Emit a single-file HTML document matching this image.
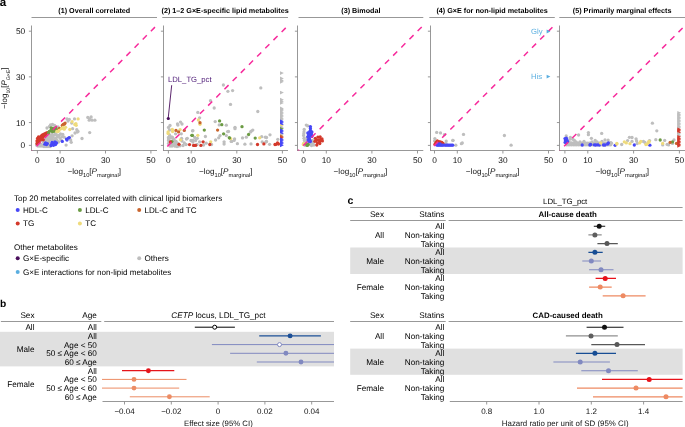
<!DOCTYPE html><html><head><meta charset="utf-8"><style>html,body{margin:0;padding:0;background:#fff;}svg{display:block;will-change:transform;}text{font-family:"Liberation Sans", sans-serif;text-rendering:geometricPrecision;}</style></head><body>
<svg width="685" height="427" viewBox="0 0 685 427">
<rect width="685" height="427" fill="#fff"/>
<text x="-0.20" y="5.90" font-size="11.6" text-anchor="start" fill="#000" font-weight="bold">a</text>
<line x1="31.50" y1="17.50" x2="157.00" y2="17.50" stroke="#8c8c8c" stroke-width="0.9"/>
<text x="94.25" y="13.40" font-size="7.2" text-anchor="middle" fill="#000" font-weight="bold">(1) Overall correlated</text>
<line x1="31.50" y1="25.50" x2="31.50" y2="151.00" stroke="#8c8c8c" stroke-width="0.9"/>
<line x1="31.05" y1="150.50" x2="157.00" y2="150.50" stroke="#8c8c8c" stroke-width="0.9"/>
<line x1="28.90" y1="145.40" x2="31.50" y2="145.40" stroke="#8c8c8c" stroke-width="0.9"/>
<line x1="37.40" y1="150.50" x2="37.40" y2="153.50" stroke="#8c8c8c" stroke-width="0.9"/>
<text x="37.40" y="162.80" font-size="8.3" text-anchor="middle" fill="#111">0</text>
<text x="25.20" y="148.40" font-size="8.3" text-anchor="end" fill="#111">0</text>
<line x1="28.90" y1="122.56" x2="31.50" y2="122.56" stroke="#8c8c8c" stroke-width="0.9"/>
<line x1="60.10" y1="150.50" x2="60.10" y2="153.50" stroke="#8c8c8c" stroke-width="0.9"/>
<text x="60.10" y="162.80" font-size="8.3" text-anchor="middle" fill="#111">10</text>
<text x="25.20" y="125.56" font-size="8.3" text-anchor="end" fill="#111">10</text>
<line x1="28.90" y1="76.88" x2="31.50" y2="76.88" stroke="#8c8c8c" stroke-width="0.9"/>
<line x1="105.50" y1="150.50" x2="105.50" y2="153.50" stroke="#8c8c8c" stroke-width="0.9"/>
<text x="105.50" y="162.80" font-size="8.3" text-anchor="middle" fill="#111">30</text>
<text x="25.20" y="79.88" font-size="8.3" text-anchor="end" fill="#111">30</text>
<line x1="28.90" y1="31.20" x2="31.50" y2="31.20" stroke="#8c8c8c" stroke-width="0.9"/>
<line x1="150.90" y1="150.50" x2="150.90" y2="153.50" stroke="#8c8c8c" stroke-width="0.9"/>
<text x="150.90" y="162.80" font-size="8.3" text-anchor="middle" fill="#111">50</text>
<text x="25.20" y="34.20" font-size="8.3" text-anchor="end" fill="#111">50</text>
<text x="94.25" y="174.0" font-size="8.1" text-anchor="middle" fill="#111">−log<tspan font-size="5.7" dy="2.5">10</tspan><tspan dy="-2.5">[</tspan><tspan font-style="italic">P</tspan><tspan font-size="5.7" dy="2.9">marginal</tspan><tspan dy="-2.9">]</tspan></text>
<clipPath id="cp0"><rect x="31.50" y="25.5" width="125.50" height="125.00"/></clipPath>
<g clip-path="url(#cp0)">
<circle cx="38.00" cy="146.00" r="1.65" fill="#bebebe"/>
<circle cx="40.00" cy="146.00" r="1.65" fill="#bebebe"/>
<circle cx="42.00" cy="146.00" r="1.65" fill="#bebebe"/>
<circle cx="44.00" cy="146.50" r="1.65" fill="#bebebe"/>
<circle cx="46.00" cy="146.50" r="1.65" fill="#bebebe"/>
<circle cx="48.00" cy="146.50" r="1.65" fill="#bebebe"/>
<circle cx="50.00" cy="146.50" r="1.65" fill="#bebebe"/>
<circle cx="39.00" cy="144.50" r="1.65" fill="#bebebe"/>
<circle cx="41.00" cy="144.50" r="1.65" fill="#bebebe"/>
<circle cx="43.00" cy="144.80" r="1.65" fill="#bebebe"/>
<circle cx="47.50" cy="143.00" r="1.65" fill="#bebebe"/>
<circle cx="49.00" cy="145.00" r="1.65" fill="#bebebe"/>
<circle cx="49.00" cy="142.00" r="1.65" fill="#bebebe"/>
<circle cx="47.00" cy="141.00" r="1.65" fill="#bebebe"/>
<circle cx="45.00" cy="141.00" r="1.65" fill="#bebebe"/>
<circle cx="43.00" cy="141.50" r="1.65" fill="#bebebe"/>
<circle cx="44.00" cy="139.50" r="1.65" fill="#bebebe"/>
<circle cx="46.00" cy="139.00" r="1.65" fill="#bebebe"/>
<circle cx="48.00" cy="139.50" r="1.65" fill="#bebebe"/>
<circle cx="50.00" cy="139.50" r="1.65" fill="#bebebe"/>
<circle cx="52.00" cy="139.50" r="1.65" fill="#bebebe"/>
<circle cx="47.00" cy="137.00" r="1.65" fill="#bebebe"/>
<circle cx="49.00" cy="137.00" r="1.65" fill="#bebebe"/>
<circle cx="51.00" cy="137.00" r="1.65" fill="#bebebe"/>
<circle cx="53.00" cy="137.20" r="1.65" fill="#bebebe"/>
<circle cx="53.40" cy="140.00" r="1.65" fill="#bebebe"/>
<circle cx="55.70" cy="133.40" r="1.65" fill="#bebebe"/>
<circle cx="56.50" cy="135.00" r="1.65" fill="#bebebe"/>
<circle cx="54.00" cy="135.00" r="1.65" fill="#bebebe"/>
<circle cx="52.00" cy="134.50" r="1.65" fill="#bebebe"/>
<circle cx="50.00" cy="135.00" r="1.65" fill="#bebebe"/>
<circle cx="48.00" cy="135.50" r="1.65" fill="#bebebe"/>
<circle cx="46.50" cy="136.00" r="1.65" fill="#bebebe"/>
<circle cx="55.50" cy="138.50" r="1.65" fill="#bebebe"/>
<circle cx="57.00" cy="140.50" r="1.65" fill="#bebebe"/>
<circle cx="57.50" cy="137.00" r="1.65" fill="#bebebe"/>
<circle cx="59.00" cy="135.50" r="1.65" fill="#bebebe"/>
<circle cx="60.50" cy="134.00" r="1.65" fill="#bebebe"/>
<circle cx="62.80" cy="134.40" r="1.65" fill="#bebebe"/>
<circle cx="62.30" cy="136.70" r="1.65" fill="#bebebe"/>
<circle cx="64.20" cy="137.20" r="1.65" fill="#bebebe"/>
<circle cx="60.00" cy="138.00" r="1.65" fill="#bebebe"/>
<circle cx="58.50" cy="142.00" r="1.65" fill="#bebebe"/>
<circle cx="61.00" cy="140.00" r="1.65" fill="#bebebe"/>
<circle cx="50.50" cy="125.00" r="1.65" fill="#bebebe"/>
<circle cx="52.50" cy="124.50" r="1.65" fill="#bebebe"/>
<circle cx="49.50" cy="126.50" r="1.65" fill="#bebebe"/>
<circle cx="47.00" cy="128.00" r="1.65" fill="#bebebe"/>
<circle cx="54.50" cy="125.50" r="1.65" fill="#bebebe"/>
<circle cx="58.00" cy="127.00" r="1.65" fill="#bebebe"/>
<circle cx="67.00" cy="118.90" r="1.65" fill="#bebebe"/>
<circle cx="69.30" cy="119.40" r="1.65" fill="#bebebe"/>
<circle cx="68.00" cy="121.00" r="1.65" fill="#bebebe"/>
<circle cx="74.50" cy="118.90" r="1.65" fill="#bebebe"/>
<circle cx="71.70" cy="123.10" r="1.65" fill="#bebebe"/>
<circle cx="72.60" cy="128.70" r="1.65" fill="#bebebe"/>
<circle cx="76.80" cy="129.70" r="1.65" fill="#bebebe"/>
<circle cx="77.30" cy="132.00" r="1.65" fill="#bebebe"/>
<circle cx="75.00" cy="133.00" r="1.65" fill="#bebebe"/>
<circle cx="72.10" cy="135.80" r="1.65" fill="#bebebe"/>
<circle cx="70.70" cy="140.00" r="1.65" fill="#bebebe"/>
<circle cx="71.20" cy="142.30" r="1.65" fill="#bebebe"/>
<circle cx="66.10" cy="145.10" r="1.65" fill="#bebebe"/>
<circle cx="82.00" cy="138.50" r="1.65" fill="#bebebe"/>
<circle cx="87.80" cy="117.40" r="1.65" fill="#bebebe"/>
<circle cx="91.10" cy="116.90" r="1.65" fill="#bebebe"/>
<circle cx="89.20" cy="120.20" r="1.65" fill="#bebebe"/>
<circle cx="92.10" cy="120.20" r="1.65" fill="#bebebe"/>
<circle cx="94.90" cy="120.20" r="1.65" fill="#bebebe"/>
<circle cx="89.70" cy="118.80" r="1.65" fill="#bebebe"/>
<circle cx="89.70" cy="132.60" r="1.65" fill="#bebebe"/>
<circle cx="78.00" cy="131.40" r="1.65" fill="#bebebe"/>
<circle cx="36.50" cy="145.00" r="1.65" fill="#bebebe"/>
<circle cx="37.00" cy="143.50" r="1.65" fill="#d4392b"/>
<circle cx="37.00" cy="141.00" r="1.65" fill="#d4392b"/>
<circle cx="37.50" cy="138.50" r="1.65" fill="#d4392b"/>
<circle cx="38.50" cy="137.00" r="1.65" fill="#d4392b"/>
<circle cx="39.00" cy="139.50" r="1.65" fill="#d4392b"/>
<circle cx="39.00" cy="142.00" r="1.65" fill="#d4392b"/>
<circle cx="40.00" cy="137.50" r="1.65" fill="#d4392b"/>
<circle cx="41.00" cy="136.30" r="1.65" fill="#d4392b"/>
<circle cx="40.50" cy="140.00" r="1.65" fill="#d4392b"/>
<circle cx="42.00" cy="135.20" r="1.65" fill="#d4392b"/>
<circle cx="43.50" cy="134.40" r="1.65" fill="#d4392b"/>
<circle cx="45.00" cy="133.60" r="1.65" fill="#d4392b"/>
<circle cx="46.50" cy="132.80" r="1.65" fill="#d4392b"/>
<circle cx="47.80" cy="132.60" r="1.65" fill="#d4392b"/>
<circle cx="42.50" cy="137.20" r="1.65" fill="#d4392b"/>
<circle cx="44.00" cy="136.00" r="1.65" fill="#d4392b"/>
<circle cx="45.50" cy="135.00" r="1.65" fill="#d4392b"/>
<circle cx="43.30" cy="139.80" r="1.65" fill="#d4392b"/>
<circle cx="41.80" cy="138.60" r="1.65" fill="#d4392b"/>
<circle cx="48.50" cy="133.00" r="1.65" fill="#6b9b43"/>
<circle cx="49.30" cy="131.50" r="1.65" fill="#6b9b43"/>
<circle cx="50.80" cy="130.50" r="1.65" fill="#6b9b43"/>
<circle cx="52.30" cy="131.50" r="1.65" fill="#6b9b43"/>
<circle cx="53.80" cy="131.30" r="1.65" fill="#6b9b43"/>
<circle cx="55.00" cy="129.80" r="1.65" fill="#6b9b43"/>
<circle cx="52.70" cy="128.50" r="1.65" fill="#6b9b43"/>
<circle cx="51.20" cy="127.80" r="1.65" fill="#6b9b43"/>
<circle cx="55.70" cy="127.80" r="1.65" fill="#6b9b43"/>
<circle cx="54.00" cy="130.50" r="1.65" fill="#6b9b43"/>
<circle cx="56.50" cy="130.00" r="1.65" fill="#6b9b43"/>
<circle cx="58.60" cy="129.70" r="1.65" fill="#c9652e"/>
<circle cx="59.50" cy="128.30" r="1.65" fill="#c9652e"/>
<circle cx="62.30" cy="125.50" r="1.65" fill="#c9652e"/>
<circle cx="63.20" cy="124.50" r="1.65" fill="#c9652e"/>
<circle cx="65.10" cy="123.10" r="1.65" fill="#c9652e"/>
<circle cx="64.50" cy="124.00" r="1.65" fill="#c9652e"/>
<circle cx="56.80" cy="131.50" r="1.65" fill="#efdb7c"/>
<circle cx="58.10" cy="131.60" r="1.65" fill="#efdb7c"/>
<circle cx="59.00" cy="130.50" r="1.65" fill="#efdb7c"/>
<circle cx="61.40" cy="128.70" r="1.65" fill="#efdb7c"/>
<circle cx="64.20" cy="129.20" r="1.65" fill="#efdb7c"/>
<circle cx="65.60" cy="127.30" r="1.65" fill="#efdb7c"/>
<circle cx="63.00" cy="127.50" r="1.65" fill="#efdb7c"/>
<circle cx="69.80" cy="129.50" r="1.65" fill="#efdb7c"/>
<circle cx="72.10" cy="121.70" r="1.65" fill="#efdb7c"/>
<circle cx="75.90" cy="123.60" r="1.65" fill="#efdb7c"/>
<circle cx="76.20" cy="125.30" r="1.65" fill="#efdb7c"/>
<circle cx="74.80" cy="124.50" r="1.65" fill="#efdb7c"/>
<circle cx="78.10" cy="118.90" r="1.65" fill="#efdb7c"/>
<circle cx="44.80" cy="144.20" r="1.65" fill="#4747f7"/>
<circle cx="46.50" cy="144.50" r="1.65" fill="#4747f7"/>
<circle cx="45.50" cy="143.00" r="1.65" fill="#4747f7"/>
<circle cx="47.30" cy="143.60" r="1.65" fill="#4747f7"/>
<circle cx="51.50" cy="144.50" r="1.65" fill="#4747f7"/>
<circle cx="53.00" cy="143.50" r="1.65" fill="#4747f7"/>
<circle cx="54.50" cy="142.80" r="1.65" fill="#4747f7"/>
<circle cx="55.50" cy="144.50" r="1.65" fill="#4747f7"/>
<circle cx="53.50" cy="145.30" r="1.65" fill="#4747f7"/>
<circle cx="51.00" cy="145.50" r="1.65" fill="#4747f7"/>
<circle cx="55.00" cy="141.80" r="1.65" fill="#4747f7"/>
<circle cx="52.00" cy="142.50" r="1.65" fill="#4747f7"/>
<circle cx="56.50" cy="143.00" r="1.65" fill="#4747f7"/>
<circle cx="62.30" cy="141.40" r="1.65" fill="#4747f7"/>
<circle cx="66.50" cy="139.10" r="1.65" fill="#4747f7"/>
<circle cx="68.40" cy="138.10" r="1.65" fill="#4747f7"/>
<circle cx="69.30" cy="137.60" r="1.65" fill="#4747f7"/>
<circle cx="67.00" cy="140.00" r="1.65" fill="#4747f7"/>
<line x1="11.99" y1="170.97" x2="173.60" y2="8.36" stroke="#f72b9c" stroke-width="1.5" stroke-dasharray="5.80 5.79"/>
</g>
<line x1="162.30" y1="17.50" x2="288.00" y2="17.50" stroke="#8c8c8c" stroke-width="0.9"/>
<text x="225.15" y="13.40" font-size="7.2" text-anchor="middle" fill="#000" font-weight="bold">(2) 1–2 G×E-specific lipid metabolites</text>
<line x1="163.50" y1="25.50" x2="163.50" y2="151.00" stroke="#8c8c8c" stroke-width="0.9"/>
<line x1="163.05" y1="150.50" x2="288.00" y2="150.50" stroke="#8c8c8c" stroke-width="0.9"/>
<line x1="160.90" y1="145.40" x2="163.50" y2="145.40" stroke="#8c8c8c" stroke-width="0.9"/>
<line x1="168.40" y1="150.50" x2="168.40" y2="153.50" stroke="#8c8c8c" stroke-width="0.9"/>
<text x="168.40" y="162.80" font-size="8.3" text-anchor="middle" fill="#111">0</text>
<line x1="160.90" y1="122.56" x2="163.50" y2="122.56" stroke="#8c8c8c" stroke-width="0.9"/>
<line x1="191.20" y1="150.50" x2="191.20" y2="153.50" stroke="#8c8c8c" stroke-width="0.9"/>
<text x="191.20" y="162.80" font-size="8.3" text-anchor="middle" fill="#111">10</text>
<line x1="160.90" y1="76.88" x2="163.50" y2="76.88" stroke="#8c8c8c" stroke-width="0.9"/>
<line x1="236.80" y1="150.50" x2="236.80" y2="153.50" stroke="#8c8c8c" stroke-width="0.9"/>
<text x="236.80" y="162.80" font-size="8.3" text-anchor="middle" fill="#111">30</text>
<line x1="160.90" y1="31.20" x2="163.50" y2="31.20" stroke="#8c8c8c" stroke-width="0.9"/>
<line x1="282.40" y1="150.50" x2="282.40" y2="153.50" stroke="#8c8c8c" stroke-width="0.9"/>
<text x="282.40" y="162.80" font-size="8.3" text-anchor="middle" fill="#111">50</text>
<text x="225.75" y="174.0" font-size="8.1" text-anchor="middle" fill="#111">−log<tspan font-size="5.7" dy="2.5">10</tspan><tspan dy="-2.5">[</tspan><tspan font-style="italic">P</tspan><tspan font-size="5.7" dy="2.9">marginal</tspan><tspan dy="-2.9">]</tspan></text>
<clipPath id="cp1"><rect x="163.50" y="25.5" width="124.50" height="125.00"/></clipPath>
<g clip-path="url(#cp1)">
<circle cx="168.50" cy="127.40" r="1.65" fill="#bebebe"/>
<circle cx="170.00" cy="125.50" r="1.65" fill="#bebebe"/>
<circle cx="177.50" cy="124.00" r="1.65" fill="#bebebe"/>
<circle cx="180.50" cy="122.10" r="1.65" fill="#bebebe"/>
<circle cx="182.00" cy="124.00" r="1.65" fill="#bebebe"/>
<circle cx="177.90" cy="125.10" r="1.65" fill="#bebebe"/>
<circle cx="168.50" cy="137.50" r="1.65" fill="#bebebe"/>
<circle cx="168.50" cy="140.50" r="1.65" fill="#bebebe"/>
<circle cx="168.50" cy="143.50" r="1.65" fill="#bebebe"/>
<circle cx="171.50" cy="136.80" r="1.65" fill="#bebebe"/>
<circle cx="173.00" cy="139.00" r="1.65" fill="#bebebe"/>
<circle cx="174.50" cy="141.30" r="1.65" fill="#bebebe"/>
<circle cx="171.50" cy="143.50" r="1.65" fill="#bebebe"/>
<circle cx="173.80" cy="145.00" r="1.65" fill="#bebebe"/>
<circle cx="176.00" cy="145.00" r="1.65" fill="#bebebe"/>
<circle cx="175.60" cy="133.80" r="1.65" fill="#bebebe"/>
<circle cx="181.30" cy="133.80" r="1.65" fill="#bebebe"/>
<circle cx="186.50" cy="139.00" r="1.65" fill="#bebebe"/>
<circle cx="184.30" cy="142.80" r="1.65" fill="#bebebe"/>
<circle cx="187.30" cy="138.30" r="1.65" fill="#bebebe"/>
<circle cx="192.50" cy="130.80" r="1.65" fill="#bebebe"/>
<circle cx="192.90" cy="142.00" r="1.65" fill="#bebebe"/>
<circle cx="191.00" cy="140.50" r="1.65" fill="#bebebe"/>
<circle cx="181.60" cy="138.30" r="1.65" fill="#bebebe"/>
<circle cx="174.90" cy="142.80" r="1.65" fill="#bebebe"/>
<circle cx="170.00" cy="146.00" r="1.65" fill="#bebebe"/>
<circle cx="172.00" cy="146.00" r="1.65" fill="#bebebe"/>
<circle cx="178.00" cy="146.00" r="1.65" fill="#bebebe"/>
<circle cx="168.50" cy="139.00" r="1.65" fill="#bebebe"/>
<circle cx="170.00" cy="138.00" r="1.65" fill="#bebebe"/>
<circle cx="172.50" cy="137.50" r="1.65" fill="#bebebe"/>
<circle cx="170.00" cy="144.50" r="1.65" fill="#bebebe"/>
<circle cx="172.50" cy="144.50" r="1.65" fill="#bebebe"/>
<circle cx="175.00" cy="146.20" r="1.65" fill="#bebebe"/>
<circle cx="177.00" cy="146.50" r="1.65" fill="#bebebe"/>
<circle cx="174.00" cy="139.50" r="1.65" fill="#bebebe"/>
<circle cx="176.00" cy="141.50" r="1.65" fill="#bebebe"/>
<circle cx="178.00" cy="143.50" r="1.65" fill="#bebebe"/>
<circle cx="180.00" cy="145.80" r="1.65" fill="#bebebe"/>
<circle cx="182.00" cy="141.00" r="1.65" fill="#bebebe"/>
<circle cx="169.50" cy="135.00" r="1.65" fill="#bebebe"/>
<circle cx="169.50" cy="130.00" r="1.65" fill="#bebebe"/>
<circle cx="170.50" cy="141.50" r="1.65" fill="#bebebe"/>
<circle cx="176.50" cy="143.00" r="1.65" fill="#bebebe"/>
<circle cx="183.00" cy="145.50" r="1.65" fill="#bebebe"/>
<circle cx="186.00" cy="144.50" r="1.65" fill="#bebebe"/>
<circle cx="197.80" cy="112.40" r="1.65" fill="#bebebe"/>
<circle cx="199.60" cy="117.80" r="1.65" fill="#bebebe"/>
<circle cx="215.20" cy="121.60" r="1.65" fill="#bebebe"/>
<circle cx="219.20" cy="124.90" r="1.65" fill="#bebebe"/>
<circle cx="226.30" cy="125.20" r="1.65" fill="#bebebe"/>
<circle cx="192.90" cy="130.70" r="1.65" fill="#bebebe"/>
<circle cx="205.40" cy="136.50" r="1.65" fill="#bebebe"/>
<circle cx="194.70" cy="137.40" r="1.65" fill="#bebebe"/>
<circle cx="197.30" cy="138.30" r="1.65" fill="#bebebe"/>
<circle cx="195.60" cy="140.50" r="1.65" fill="#bebebe"/>
<circle cx="199.60" cy="141.80" r="1.65" fill="#bebebe"/>
<circle cx="206.20" cy="143.20" r="1.65" fill="#bebebe"/>
<circle cx="203.60" cy="145.00" r="1.65" fill="#bebebe"/>
<circle cx="215.60" cy="140.00" r="1.65" fill="#bebebe"/>
<circle cx="218.70" cy="137.80" r="1.65" fill="#bebebe"/>
<circle cx="220.00" cy="135.60" r="1.65" fill="#bebebe"/>
<circle cx="227.60" cy="131.60" r="1.65" fill="#bebebe"/>
<circle cx="226.30" cy="135.60" r="1.65" fill="#bebebe"/>
<circle cx="224.10" cy="141.80" r="1.65" fill="#bebebe"/>
<circle cx="224.10" cy="144.00" r="1.65" fill="#bebebe"/>
<circle cx="231.20" cy="141.40" r="1.65" fill="#bebebe"/>
<circle cx="192.90" cy="140.50" r="1.65" fill="#bebebe"/>
<circle cx="197.00" cy="144.50" r="1.65" fill="#bebebe"/>
<circle cx="211.50" cy="144.50" r="1.65" fill="#bebebe"/>
<circle cx="235.00" cy="127.30" r="1.65" fill="#bebebe"/>
<circle cx="235.00" cy="128.70" r="1.65" fill="#bebebe"/>
<circle cx="228.50" cy="131.50" r="1.65" fill="#bebebe"/>
<circle cx="252.80" cy="130.10" r="1.65" fill="#bebebe"/>
<circle cx="251.40" cy="131.10" r="1.65" fill="#bebebe"/>
<circle cx="250.50" cy="132.00" r="1.65" fill="#bebebe"/>
<circle cx="246.30" cy="137.20" r="1.65" fill="#bebebe"/>
<circle cx="242.50" cy="137.90" r="1.65" fill="#bebebe"/>
<circle cx="234.60" cy="139.00" r="1.65" fill="#bebebe"/>
<circle cx="234.10" cy="140.40" r="1.65" fill="#bebebe"/>
<circle cx="231.70" cy="141.40" r="1.65" fill="#bebebe"/>
<circle cx="237.40" cy="143.70" r="1.65" fill="#bebebe"/>
<circle cx="244.90" cy="144.20" r="1.65" fill="#bebebe"/>
<circle cx="251.00" cy="143.90" r="1.65" fill="#bebebe"/>
<circle cx="261.70" cy="136.70" r="1.65" fill="#bebebe"/>
<circle cx="265.30" cy="137.20" r="1.65" fill="#bebebe"/>
<circle cx="262.20" cy="141.90" r="1.65" fill="#bebebe"/>
<circle cx="265.90" cy="141.90" r="1.65" fill="#bebebe"/>
<circle cx="223.40" cy="85.00" r="1.65" fill="#bebebe"/>
<circle cx="227.90" cy="91.30" r="1.65" fill="#bebebe"/>
<circle cx="232.60" cy="90.60" r="1.65" fill="#bebebe"/>
<circle cx="260.80" cy="87.90" r="1.65" fill="#bebebe"/>
<circle cx="210.50" cy="100.70" r="1.65" fill="#bebebe"/>
<circle cx="214.20" cy="108.00" r="1.65" fill="#bebebe"/>
<circle cx="230.50" cy="104.40" r="1.65" fill="#bebebe"/>
<circle cx="257.80" cy="111.50" r="1.65" fill="#bebebe"/>
<circle cx="270.00" cy="134.80" r="1.65" fill="#bebebe"/>
<circle cx="266.50" cy="137.50" r="1.65" fill="#bebebe"/>
<circle cx="266.50" cy="141.50" r="1.65" fill="#bebebe"/>
<circle cx="269.60" cy="144.30" r="1.65" fill="#bebebe"/>
<circle cx="277.80" cy="139.30" r="1.65" fill="#bebebe"/>
<circle cx="168.10" cy="131.90" r="1.65" fill="#efdb7c"/>
<circle cx="168.10" cy="133.60" r="1.65" fill="#efdb7c"/>
<circle cx="172.30" cy="129.30" r="1.65" fill="#efdb7c"/>
<circle cx="172.60" cy="131.50" r="1.65" fill="#efdb7c"/>
<circle cx="180.10" cy="129.60" r="1.65" fill="#efdb7c"/>
<circle cx="180.50" cy="139.80" r="1.65" fill="#efdb7c"/>
<circle cx="198.40" cy="120.00" r="1.65" fill="#efdb7c"/>
<circle cx="200.00" cy="124.30" r="1.65" fill="#efdb7c"/>
<circle cx="197.80" cy="135.30" r="1.65" fill="#efdb7c"/>
<circle cx="210.70" cy="141.80" r="1.65" fill="#efdb7c"/>
<circle cx="230.70" cy="138.70" r="1.65" fill="#efdb7c"/>
<circle cx="259.70" cy="137.80" r="1.65" fill="#efdb7c"/>
<circle cx="176.00" cy="130.40" r="1.65" fill="#c9652e"/>
<circle cx="178.60" cy="131.90" r="1.65" fill="#c9652e"/>
<circle cx="184.30" cy="130.40" r="1.65" fill="#c9652e"/>
<circle cx="200.00" cy="122.70" r="1.65" fill="#c9652e"/>
<circle cx="217.60" cy="130.10" r="1.65" fill="#c9652e"/>
<circle cx="171.90" cy="141.60" r="1.65" fill="#6b9b43"/>
<circle cx="191.80" cy="135.30" r="1.65" fill="#6b9b43"/>
<circle cx="219.60" cy="120.90" r="1.65" fill="#6b9b43"/>
<circle cx="221.80" cy="124.70" r="1.65" fill="#6b9b43"/>
<circle cx="204.30" cy="130.10" r="1.65" fill="#6b9b43"/>
<circle cx="192.40" cy="135.40" r="1.65" fill="#6b9b43"/>
<circle cx="223.60" cy="133.80" r="1.65" fill="#6b9b43"/>
<circle cx="229.40" cy="137.80" r="1.65" fill="#6b9b43"/>
<circle cx="242.00" cy="126.70" r="1.65" fill="#6b9b43"/>
<circle cx="248.60" cy="134.50" r="1.65" fill="#6b9b43"/>
<circle cx="255.20" cy="138.10" r="1.65" fill="#6b9b43"/>
<circle cx="229.40" cy="137.80" r="1.65" fill="#6b9b43"/>
<circle cx="170.40" cy="142.00" r="1.65" fill="#d4392b"/>
<circle cx="179.00" cy="144.30" r="1.65" fill="#d4392b"/>
<circle cx="189.50" cy="144.60" r="1.65" fill="#d4392b"/>
<circle cx="193.60" cy="145.40" r="1.65" fill="#d4392b"/>
<circle cx="194.20" cy="145.40" r="1.65" fill="#d4392b"/>
<circle cx="195.60" cy="145.40" r="1.65" fill="#d4392b"/>
<circle cx="200.90" cy="145.40" r="1.65" fill="#d4392b"/>
<circle cx="203.10" cy="141.80" r="1.65" fill="#d4392b"/>
<circle cx="209.80" cy="144.50" r="1.65" fill="#d4392b"/>
<circle cx="257.50" cy="144.50" r="1.65" fill="#d4392b"/>
<circle cx="263.90" cy="143.90" r="1.65" fill="#d4392b"/>
<circle cx="276.00" cy="144.30" r="1.65" fill="#d4392b"/>
<circle cx="277.50" cy="143.00" r="1.65" fill="#d4392b"/>
<circle cx="275.00" cy="144.50" r="1.65" fill="#d4392b"/>
<circle cx="278.50" cy="144.00" r="1.65" fill="#d4392b"/>
<path d="M280.00,71.20L283.90,73.10L280.00,75.00Z" fill="#bebebe"/>
<path d="M280.00,76.50L283.90,78.40L280.00,80.30Z" fill="#bebebe"/>
<path d="M280.00,78.50L283.90,80.40L280.00,82.30Z" fill="#bebebe"/>
<path d="M280.00,79.90L283.90,81.80L280.00,83.70Z" fill="#bebebe"/>
<path d="M280.00,90.70L283.90,92.60L280.00,94.50Z" fill="#bebebe"/>
<path d="M280.00,97.80L283.90,99.70L280.00,101.60Z" fill="#bebebe"/>
<path d="M280.00,99.40L283.90,101.30L280.00,103.20Z" fill="#bebebe"/>
<path d="M280.00,101.00L283.90,102.90L280.00,104.80Z" fill="#bebebe"/>
<path d="M280.00,106.50L283.90,108.40L280.00,110.30Z" fill="#bebebe"/>
<path d="M280.00,107.70L283.90,109.60L280.00,111.50Z" fill="#bebebe"/>
<path d="M280.00,108.90L283.90,110.80L280.00,112.70Z" fill="#bebebe"/>
<path d="M280.00,110.40L283.90,112.30L280.00,114.20Z" fill="#bebebe"/>
<path d="M280.00,111.90L283.90,113.80L280.00,115.70Z" fill="#bebebe"/>
<path d="M280.00,113.40L283.90,115.30L280.00,117.20Z" fill="#bebebe"/>
<path d="M280.00,114.90L283.90,116.80L280.00,118.70Z" fill="#bebebe"/>
<path d="M280.00,116.40L283.90,118.30L280.00,120.20Z" fill="#bebebe"/>
<path d="M280.00,117.90L283.90,119.80L280.00,121.70Z" fill="#bebebe"/>
<path d="M280.00,119.40L283.90,121.30L280.00,123.20Z" fill="#4747f7"/>
<path d="M280.00,120.90L283.90,122.80L280.00,124.70Z" fill="#4747f7"/>
<path d="M280.00,122.40L283.90,124.30L280.00,126.20Z" fill="#4747f7"/>
<path d="M280.00,123.90L283.90,125.80L280.00,127.70Z" fill="#efdb7c"/>
<path d="M280.00,125.40L283.90,127.30L280.00,129.20Z" fill="#bebebe"/>
<path d="M280.00,126.90L283.90,128.80L280.00,130.70Z" fill="#6b9b43"/>
<path d="M280.00,128.40L283.90,130.30L280.00,132.20Z" fill="#4747f7"/>
<path d="M280.00,129.90L283.90,131.80L280.00,133.70Z" fill="#4747f7"/>
<path d="M280.00,131.40L283.90,133.30L280.00,135.20Z" fill="#4747f7"/>
<path d="M280.00,132.90L283.90,134.80L280.00,136.70Z" fill="#bebebe"/>
<path d="M280.00,134.40L283.90,136.30L280.00,138.20Z" fill="#c9652e"/>
<path d="M280.00,135.90L283.90,137.80L280.00,139.70Z" fill="#d4392b"/>
<path d="M280.00,137.40L283.90,139.30L280.00,141.20Z" fill="#4747f7"/>
<path d="M280.00,138.90L283.90,140.80L280.00,142.70Z" fill="#4747f7"/>
<path d="M280.00,140.40L283.90,142.30L280.00,144.20Z" fill="#4747f7"/>
<path d="M280.00,141.90L283.90,143.80L280.00,145.70Z" fill="#4747f7"/>
<path d="M280.00,143.40L283.90,145.30L280.00,147.20Z" fill="#4747f7"/>
<line x1="142.79" y1="171.05" x2="305.20" y2="8.36" stroke="#f72b9c" stroke-width="1.5" stroke-dasharray="5.80 5.76"/>
</g>
<line x1="298.50" y1="17.50" x2="423.30" y2="17.50" stroke="#8c8c8c" stroke-width="0.9"/>
<text x="360.90" y="13.40" font-size="7.2" text-anchor="middle" fill="#000" font-weight="bold">(3) Bimodal</text>
<line x1="297.50" y1="25.50" x2="297.50" y2="151.00" stroke="#8c8c8c" stroke-width="0.9"/>
<line x1="297.05" y1="150.50" x2="423.30" y2="150.50" stroke="#8c8c8c" stroke-width="0.9"/>
<line x1="294.90" y1="145.40" x2="297.50" y2="145.40" stroke="#8c8c8c" stroke-width="0.9"/>
<line x1="303.50" y1="150.50" x2="303.50" y2="153.50" stroke="#8c8c8c" stroke-width="0.9"/>
<text x="303.50" y="162.80" font-size="8.3" text-anchor="middle" fill="#111">0</text>
<line x1="294.90" y1="122.56" x2="297.50" y2="122.56" stroke="#8c8c8c" stroke-width="0.9"/>
<line x1="326.30" y1="150.50" x2="326.30" y2="153.50" stroke="#8c8c8c" stroke-width="0.9"/>
<text x="326.30" y="162.80" font-size="8.3" text-anchor="middle" fill="#111">10</text>
<line x1="294.90" y1="76.88" x2="297.50" y2="76.88" stroke="#8c8c8c" stroke-width="0.9"/>
<line x1="371.90" y1="150.50" x2="371.90" y2="153.50" stroke="#8c8c8c" stroke-width="0.9"/>
<text x="371.90" y="162.80" font-size="8.3" text-anchor="middle" fill="#111">30</text>
<line x1="294.90" y1="31.20" x2="297.50" y2="31.20" stroke="#8c8c8c" stroke-width="0.9"/>
<line x1="417.50" y1="150.50" x2="417.50" y2="153.50" stroke="#8c8c8c" stroke-width="0.9"/>
<text x="417.50" y="162.80" font-size="8.3" text-anchor="middle" fill="#111">50</text>
<text x="360.40" y="174.0" font-size="8.1" text-anchor="middle" fill="#111">−log<tspan font-size="5.7" dy="2.5">10</tspan><tspan dy="-2.5">[</tspan><tspan font-style="italic">P</tspan><tspan font-size="5.7" dy="2.9">marginal</tspan><tspan dy="-2.9">]</tspan></text>
<clipPath id="cp2"><rect x="297.50" y="25.5" width="125.80" height="125.00"/></clipPath>
<g clip-path="url(#cp2)">
<circle cx="306.30" cy="125.10" r="1.65" fill="#bebebe"/>
<circle cx="307.80" cy="125.90" r="1.65" fill="#bebebe"/>
<circle cx="304.00" cy="131.90" r="1.65" fill="#bebebe"/>
<circle cx="303.60" cy="135.60" r="1.65" fill="#bebebe"/>
<circle cx="304.00" cy="138.30" r="1.65" fill="#bebebe"/>
<circle cx="304.40" cy="140.50" r="1.65" fill="#bebebe"/>
<circle cx="304.80" cy="142.80" r="1.65" fill="#bebebe"/>
<circle cx="311.10" cy="143.90" r="1.65" fill="#bebebe"/>
<circle cx="313.00" cy="142.00" r="1.65" fill="#bebebe"/>
<circle cx="313.00" cy="144.30" r="1.65" fill="#bebebe"/>
<circle cx="313.80" cy="145.00" r="1.65" fill="#bebebe"/>
<circle cx="305.50" cy="145.40" r="1.65" fill="#bebebe"/>
<circle cx="307.00" cy="137.50" r="1.65" fill="#bebebe"/>
<circle cx="304.20" cy="129.50" r="1.65" fill="#bebebe"/>
<circle cx="303.80" cy="133.80" r="1.65" fill="#bebebe"/>
<circle cx="306.00" cy="141.00" r="1.65" fill="#bebebe"/>
<circle cx="307.50" cy="143.00" r="1.65" fill="#bebebe"/>
<circle cx="309.50" cy="144.50" r="1.65" fill="#bebebe"/>
<circle cx="311.50" cy="145.50" r="1.65" fill="#bebebe"/>
<circle cx="312.50" cy="140.50" r="1.65" fill="#bebebe"/>
<circle cx="310.40" cy="126.60" r="1.65" fill="#4747f7"/>
<circle cx="310.40" cy="128.50" r="1.65" fill="#4747f7"/>
<circle cx="310.40" cy="130.40" r="1.65" fill="#4747f7"/>
<circle cx="309.60" cy="131.90" r="1.65" fill="#4747f7"/>
<circle cx="307.80" cy="133.00" r="1.65" fill="#4747f7"/>
<circle cx="308.50" cy="134.90" r="1.65" fill="#4747f7"/>
<circle cx="307.80" cy="136.80" r="1.65" fill="#4747f7"/>
<circle cx="309.30" cy="138.30" r="1.65" fill="#4747f7"/>
<circle cx="308.10" cy="139.80" r="1.65" fill="#4747f7"/>
<circle cx="310.00" cy="140.50" r="1.65" fill="#4747f7"/>
<circle cx="311.90" cy="131.90" r="1.65" fill="#4747f7"/>
<circle cx="311.50" cy="134.10" r="1.65" fill="#4747f7"/>
<circle cx="311.90" cy="136.40" r="1.65" fill="#4747f7"/>
<circle cx="310.40" cy="141.60" r="1.65" fill="#4747f7"/>
<circle cx="309.50" cy="133.50" r="1.65" fill="#4747f7"/>
<circle cx="310.00" cy="136.00" r="1.65" fill="#4747f7"/>
<circle cx="309.00" cy="141.30" r="1.65" fill="#4747f7"/>
<circle cx="315.30" cy="138.30" r="1.65" fill="#d4392b"/>
<circle cx="316.00" cy="140.50" r="1.65" fill="#d4392b"/>
<circle cx="314.90" cy="141.30" r="1.65" fill="#d4392b"/>
<circle cx="317.90" cy="137.10" r="1.65" fill="#d4392b"/>
<circle cx="320.10" cy="136.80" r="1.65" fill="#d4392b"/>
<circle cx="322.00" cy="139.00" r="1.65" fill="#d4392b"/>
<circle cx="322.40" cy="140.90" r="1.65" fill="#d4392b"/>
<circle cx="319.80" cy="141.30" r="1.65" fill="#d4392b"/>
<circle cx="317.50" cy="142.80" r="1.65" fill="#d4392b"/>
<circle cx="319.80" cy="143.50" r="1.65" fill="#d4392b"/>
<circle cx="316.80" cy="145.00" r="1.65" fill="#d4392b"/>
<circle cx="318.30" cy="139.80" r="1.65" fill="#d4392b"/>
<circle cx="320.50" cy="139.40" r="1.65" fill="#d4392b"/>
<circle cx="306.60" cy="144.60" r="1.65" fill="#6b9b43"/>
<circle cx="308.10" cy="144.30" r="1.65" fill="#6b9b43"/>
<circle cx="307.40" cy="145.40" r="1.65" fill="#6b9b43"/>
<circle cx="303.60" cy="143.50" r="1.65" fill="#efdb7c"/>
<circle cx="303.30" cy="144.60" r="1.65" fill="#efdb7c"/>
<line x1="278.79" y1="170.15" x2="440.30" y2="8.36" stroke="#f72b9c" stroke-width="1.5" stroke-dasharray="5.80 5.76"/>
</g>
<line x1="429.30" y1="17.50" x2="554.80" y2="17.50" stroke="#8c8c8c" stroke-width="0.9"/>
<text x="492.05" y="13.40" font-size="7.2" text-anchor="middle" fill="#000" font-weight="bold">(4) G×E for non-lipid metabolites</text>
<line x1="430.50" y1="25.50" x2="430.50" y2="151.00" stroke="#8c8c8c" stroke-width="0.9"/>
<line x1="430.05" y1="150.50" x2="554.80" y2="150.50" stroke="#8c8c8c" stroke-width="0.9"/>
<line x1="427.90" y1="145.40" x2="430.50" y2="145.40" stroke="#8c8c8c" stroke-width="0.9"/>
<line x1="434.50" y1="150.50" x2="434.50" y2="153.50" stroke="#8c8c8c" stroke-width="0.9"/>
<text x="434.50" y="162.80" font-size="8.3" text-anchor="middle" fill="#111">0</text>
<line x1="427.90" y1="122.56" x2="430.50" y2="122.56" stroke="#8c8c8c" stroke-width="0.9"/>
<line x1="457.30" y1="150.50" x2="457.30" y2="153.50" stroke="#8c8c8c" stroke-width="0.9"/>
<text x="457.30" y="162.80" font-size="8.3" text-anchor="middle" fill="#111">10</text>
<line x1="427.90" y1="76.88" x2="430.50" y2="76.88" stroke="#8c8c8c" stroke-width="0.9"/>
<line x1="502.90" y1="150.50" x2="502.90" y2="153.50" stroke="#8c8c8c" stroke-width="0.9"/>
<text x="502.90" y="162.80" font-size="8.3" text-anchor="middle" fill="#111">30</text>
<line x1="427.90" y1="31.20" x2="430.50" y2="31.20" stroke="#8c8c8c" stroke-width="0.9"/>
<line x1="548.50" y1="150.50" x2="548.50" y2="153.50" stroke="#8c8c8c" stroke-width="0.9"/>
<text x="548.50" y="162.80" font-size="8.3" text-anchor="middle" fill="#111">50</text>
<text x="492.65" y="174.0" font-size="8.1" text-anchor="middle" fill="#111">−log<tspan font-size="5.7" dy="2.5">10</tspan><tspan dy="-2.5">[</tspan><tspan font-style="italic">P</tspan><tspan font-size="5.7" dy="2.9">marginal</tspan><tspan dy="-2.9">]</tspan></text>
<clipPath id="cp3"><rect x="430.50" y="25.5" width="124.30" height="125.00"/></clipPath>
<g clip-path="url(#cp3)">
<circle cx="436.70" cy="132.40" r="1.65" fill="#bebebe"/>
<circle cx="440.50" cy="132.90" r="1.65" fill="#bebebe"/>
<circle cx="434.90" cy="138.60" r="1.65" fill="#bebebe"/>
<circle cx="434.60" cy="140.90" r="1.65" fill="#bebebe"/>
<circle cx="444.40" cy="134.70" r="1.65" fill="#bebebe"/>
<circle cx="446.20" cy="141.10" r="1.65" fill="#bebebe"/>
<circle cx="452.90" cy="140.40" r="1.65" fill="#bebebe"/>
<circle cx="455.80" cy="145.20" r="1.65" fill="#bebebe"/>
<circle cx="463.50" cy="134.40" r="1.65" fill="#bebebe"/>
<circle cx="452.90" cy="140.30" r="1.65" fill="#bebebe"/>
<circle cx="462.30" cy="142.90" r="1.65" fill="#bebebe"/>
<circle cx="461.40" cy="143.70" r="1.65" fill="#bebebe"/>
<circle cx="504.40" cy="135.50" r="1.65" fill="#bebebe"/>
<circle cx="511.10" cy="145.20" r="1.65" fill="#bebebe"/>
<circle cx="446.00" cy="143.50" r="1.65" fill="#bebebe"/>
<circle cx="435.00" cy="144.20" r="1.65" fill="#d4392b"/>
<circle cx="436.00" cy="142.50" r="1.65" fill="#d4392b"/>
<circle cx="437.30" cy="141.00" r="1.65" fill="#d4392b"/>
<circle cx="438.80" cy="141.60" r="1.65" fill="#d4392b"/>
<circle cx="440.30" cy="142.00" r="1.65" fill="#d4392b"/>
<circle cx="441.80" cy="142.50" r="1.65" fill="#d4392b"/>
<circle cx="443.00" cy="143.50" r="1.65" fill="#d4392b"/>
<circle cx="437.00" cy="145.20" r="1.65" fill="#4747f7"/>
<circle cx="438.20" cy="145.20" r="1.65" fill="#4747f7"/>
<circle cx="439.50" cy="145.20" r="1.65" fill="#4747f7"/>
<circle cx="440.80" cy="145.20" r="1.65" fill="#4747f7"/>
<circle cx="442.00" cy="145.20" r="1.65" fill="#4747f7"/>
<circle cx="443.20" cy="145.20" r="1.65" fill="#4747f7"/>
<circle cx="438.70" cy="144.00" r="1.65" fill="#4747f7"/>
<circle cx="440.00" cy="144.00" r="1.65" fill="#4747f7"/>
<circle cx="445.00" cy="145.20" r="1.65" fill="#4747f7"/>
<circle cx="446.30" cy="145.20" r="1.65" fill="#4747f7"/>
<circle cx="447.60" cy="145.20" r="1.65" fill="#4747f7"/>
<circle cx="448.90" cy="145.20" r="1.65" fill="#4747f7"/>
<circle cx="450.20" cy="145.20" r="1.65" fill="#4747f7"/>
<circle cx="451.50" cy="145.20" r="1.65" fill="#4747f7"/>
<circle cx="452.70" cy="145.20" r="1.65" fill="#4747f7"/>
<line x1="409.49" y1="170.45" x2="571.30" y2="8.36" stroke="#f72b9c" stroke-width="1.5" stroke-dasharray="5.80 5.76"/>
</g>
<line x1="559.30" y1="17.50" x2="685.00" y2="17.50" stroke="#8c8c8c" stroke-width="0.9"/>
<text x="622.15" y="13.40" font-size="7.2" text-anchor="middle" fill="#000" font-weight="bold">(5) Primarily marginal effects</text>
<line x1="559.50" y1="25.50" x2="559.50" y2="151.00" stroke="#8c8c8c" stroke-width="0.9"/>
<line x1="559.05" y1="150.50" x2="685.00" y2="150.50" stroke="#8c8c8c" stroke-width="0.9"/>
<line x1="556.90" y1="145.40" x2="559.50" y2="145.40" stroke="#8c8c8c" stroke-width="0.9"/>
<line x1="564.90" y1="150.50" x2="564.90" y2="153.50" stroke="#8c8c8c" stroke-width="0.9"/>
<text x="564.90" y="162.80" font-size="8.3" text-anchor="middle" fill="#111">0</text>
<line x1="556.90" y1="122.56" x2="559.50" y2="122.56" stroke="#8c8c8c" stroke-width="0.9"/>
<line x1="587.80" y1="150.50" x2="587.80" y2="153.50" stroke="#8c8c8c" stroke-width="0.9"/>
<text x="587.80" y="162.80" font-size="8.3" text-anchor="middle" fill="#111">10</text>
<line x1="556.90" y1="76.88" x2="559.50" y2="76.88" stroke="#8c8c8c" stroke-width="0.9"/>
<line x1="633.60" y1="150.50" x2="633.60" y2="153.50" stroke="#8c8c8c" stroke-width="0.9"/>
<text x="633.60" y="162.80" font-size="8.3" text-anchor="middle" fill="#111">30</text>
<line x1="556.90" y1="31.20" x2="559.50" y2="31.20" stroke="#8c8c8c" stroke-width="0.9"/>
<line x1="679.40" y1="150.50" x2="679.40" y2="153.50" stroke="#8c8c8c" stroke-width="0.9"/>
<text x="679.40" y="162.80" font-size="8.3" text-anchor="middle" fill="#111">50</text>
<text x="622.25" y="174.0" font-size="8.1" text-anchor="middle" fill="#111">−log<tspan font-size="5.7" dy="2.5">10</tspan><tspan dy="-2.5">[</tspan><tspan font-style="italic">P</tspan><tspan font-size="5.7" dy="2.9">marginal</tspan><tspan dy="-2.9">]</tspan></text>
<clipPath id="cp4"><rect x="559.50" y="25.5" width="125.50" height="125.00"/></clipPath>
<g clip-path="url(#cp4)">
<circle cx="566.20" cy="136.00" r="1.65" fill="#bebebe"/>
<circle cx="570.30" cy="137.30" r="1.65" fill="#bebebe"/>
<circle cx="570.30" cy="139.10" r="1.65" fill="#bebebe"/>
<circle cx="572.90" cy="139.30" r="1.65" fill="#bebebe"/>
<circle cx="574.40" cy="140.40" r="1.65" fill="#bebebe"/>
<circle cx="578.60" cy="135.00" r="1.65" fill="#bebebe"/>
<circle cx="588.40" cy="132.60" r="1.65" fill="#bebebe"/>
<circle cx="588.40" cy="134.70" r="1.65" fill="#bebebe"/>
<circle cx="591.40" cy="138.30" r="1.65" fill="#bebebe"/>
<circle cx="601.70" cy="133.40" r="1.65" fill="#bebebe"/>
<circle cx="595.20" cy="140.40" r="1.65" fill="#bebebe"/>
<circle cx="605.00" cy="139.90" r="1.65" fill="#bebebe"/>
<circle cx="608.10" cy="140.10" r="1.65" fill="#bebebe"/>
<circle cx="610.70" cy="142.70" r="1.65" fill="#bebebe"/>
<circle cx="621.70" cy="144.50" r="1.65" fill="#bebebe"/>
<circle cx="629.40" cy="137.30" r="1.65" fill="#bebebe"/>
<circle cx="632.00" cy="137.50" r="1.65" fill="#bebebe"/>
<circle cx="627.60" cy="140.60" r="1.65" fill="#bebebe"/>
<circle cx="632.00" cy="141.40" r="1.65" fill="#bebebe"/>
<circle cx="636.10" cy="138.80" r="1.65" fill="#bebebe"/>
<circle cx="636.60" cy="140.90" r="1.65" fill="#bebebe"/>
<circle cx="637.20" cy="143.50" r="1.65" fill="#bebebe"/>
<circle cx="643.40" cy="141.40" r="1.65" fill="#bebebe"/>
<circle cx="644.90" cy="142.40" r="1.65" fill="#bebebe"/>
<circle cx="649.50" cy="140.60" r="1.65" fill="#bebebe"/>
<circle cx="652.40" cy="123.20" r="1.65" fill="#bebebe"/>
<circle cx="656.80" cy="130.80" r="1.65" fill="#bebebe"/>
<circle cx="655.80" cy="139.70" r="1.65" fill="#bebebe"/>
<circle cx="664.70" cy="140.40" r="1.65" fill="#bebebe"/>
<circle cx="662.70" cy="144.90" r="1.65" fill="#bebebe"/>
<circle cx="667.10" cy="144.40" r="1.65" fill="#bebebe"/>
<circle cx="668.60" cy="144.90" r="1.65" fill="#bebebe"/>
<circle cx="674.00" cy="140.00" r="1.65" fill="#bebebe"/>
<circle cx="672.50" cy="143.40" r="1.65" fill="#bebebe"/>
<circle cx="566.50" cy="144.80" r="1.65" fill="#bebebe"/>
<circle cx="567.30" cy="143.20" r="1.65" fill="#bebebe"/>
<circle cx="568.20" cy="144.80" r="1.65" fill="#bebebe"/>
<circle cx="569.00" cy="143.20" r="1.65" fill="#bebebe"/>
<circle cx="569.90" cy="144.80" r="1.65" fill="#bebebe"/>
<circle cx="570.70" cy="143.20" r="1.65" fill="#bebebe"/>
<circle cx="571.60" cy="144.80" r="1.65" fill="#bebebe"/>
<circle cx="572.40" cy="143.20" r="1.65" fill="#bebebe"/>
<circle cx="573.30" cy="144.80" r="1.65" fill="#bebebe"/>
<circle cx="574.10" cy="143.20" r="1.65" fill="#bebebe"/>
<circle cx="575.00" cy="144.80" r="1.65" fill="#bebebe"/>
<circle cx="575.80" cy="143.20" r="1.65" fill="#bebebe"/>
<circle cx="576.70" cy="144.80" r="1.65" fill="#bebebe"/>
<circle cx="577.50" cy="143.20" r="1.65" fill="#bebebe"/>
<circle cx="578.40" cy="144.80" r="1.65" fill="#bebebe"/>
<circle cx="579.20" cy="143.20" r="1.65" fill="#bebebe"/>
<circle cx="580.10" cy="144.80" r="1.65" fill="#bebebe"/>
<circle cx="580.90" cy="143.20" r="1.65" fill="#bebebe"/>
<circle cx="581.80" cy="144.80" r="1.65" fill="#bebebe"/>
<circle cx="582.60" cy="143.20" r="1.65" fill="#bebebe"/>
<circle cx="583.50" cy="144.80" r="1.65" fill="#bebebe"/>
<circle cx="584.30" cy="143.20" r="1.65" fill="#bebebe"/>
<circle cx="585.20" cy="144.80" r="1.65" fill="#bebebe"/>
<circle cx="586.00" cy="143.20" r="1.65" fill="#bebebe"/>
<circle cx="586.90" cy="144.80" r="1.65" fill="#bebebe"/>
<circle cx="587.70" cy="143.20" r="1.65" fill="#bebebe"/>
<circle cx="588.60" cy="144.80" r="1.65" fill="#bebebe"/>
<circle cx="589.40" cy="143.20" r="1.65" fill="#bebebe"/>
<circle cx="590.30" cy="144.80" r="1.65" fill="#bebebe"/>
<circle cx="591.10" cy="143.20" r="1.65" fill="#bebebe"/>
<circle cx="592.00" cy="144.80" r="1.65" fill="#bebebe"/>
<circle cx="592.80" cy="143.20" r="1.65" fill="#bebebe"/>
<circle cx="593.70" cy="144.80" r="1.65" fill="#bebebe"/>
<circle cx="594.50" cy="143.20" r="1.65" fill="#bebebe"/>
<circle cx="595.40" cy="144.80" r="1.65" fill="#bebebe"/>
<circle cx="596.20" cy="143.20" r="1.65" fill="#bebebe"/>
<circle cx="597.10" cy="144.80" r="1.65" fill="#bebebe"/>
<circle cx="597.90" cy="143.20" r="1.65" fill="#bebebe"/>
<circle cx="598.80" cy="144.80" r="1.65" fill="#bebebe"/>
<circle cx="599.60" cy="143.20" r="1.65" fill="#bebebe"/>
<circle cx="600.50" cy="144.80" r="1.65" fill="#bebebe"/>
<circle cx="601.30" cy="143.20" r="1.65" fill="#bebebe"/>
<circle cx="602.20" cy="144.80" r="1.65" fill="#bebebe"/>
<circle cx="603.00" cy="143.20" r="1.65" fill="#bebebe"/>
<circle cx="603.90" cy="144.80" r="1.65" fill="#bebebe"/>
<circle cx="604.70" cy="143.20" r="1.65" fill="#bebebe"/>
<circle cx="605.60" cy="144.80" r="1.65" fill="#bebebe"/>
<circle cx="606.40" cy="143.20" r="1.65" fill="#bebebe"/>
<circle cx="607.30" cy="144.80" r="1.65" fill="#bebebe"/>
<circle cx="608.10" cy="143.20" r="1.65" fill="#bebebe"/>
<circle cx="609.00" cy="144.80" r="1.65" fill="#bebebe"/>
<circle cx="609.80" cy="143.20" r="1.65" fill="#bebebe"/>
<circle cx="610.70" cy="144.80" r="1.65" fill="#bebebe"/>
<circle cx="611.50" cy="143.20" r="1.65" fill="#bebebe"/>
<circle cx="576.00" cy="141.80" r="1.65" fill="#bebebe"/>
<circle cx="580.00" cy="142.00" r="1.65" fill="#bebebe"/>
<circle cx="584.00" cy="141.50" r="1.65" fill="#bebebe"/>
<circle cx="592.00" cy="141.80" r="1.65" fill="#bebebe"/>
<circle cx="597.00" cy="142.00" r="1.65" fill="#bebebe"/>
<circle cx="602.00" cy="141.50" r="1.65" fill="#bebebe"/>
<circle cx="568.50" cy="141.50" r="1.65" fill="#bebebe"/>
<circle cx="571.00" cy="143.00" r="1.65" fill="#bebebe"/>
<circle cx="565.00" cy="138.60" r="1.65" fill="#4747f7"/>
<circle cx="566.40" cy="138.20" r="1.65" fill="#4747f7"/>
<circle cx="567.00" cy="140.00" r="1.65" fill="#4747f7"/>
<circle cx="565.40" cy="140.80" r="1.65" fill="#4747f7"/>
<circle cx="565.10" cy="142.40" r="1.65" fill="#4747f7"/>
<circle cx="566.60" cy="142.20" r="1.65" fill="#4747f7"/>
<circle cx="567.40" cy="141.30" r="1.65" fill="#4747f7"/>
<circle cx="582.20" cy="145.00" r="1.65" fill="#4747f7"/>
<circle cx="589.90" cy="145.00" r="1.65" fill="#4747f7"/>
<circle cx="590.60" cy="144.50" r="1.65" fill="#4747f7"/>
<circle cx="594.20" cy="144.80" r="1.65" fill="#4747f7"/>
<circle cx="595.70" cy="145.00" r="1.65" fill="#4747f7"/>
<circle cx="597.50" cy="144.80" r="1.65" fill="#4747f7"/>
<circle cx="599.30" cy="145.00" r="1.65" fill="#4747f7"/>
<circle cx="603.50" cy="145.00" r="1.65" fill="#4747f7"/>
<circle cx="605.00" cy="145.00" r="1.65" fill="#4747f7"/>
<circle cx="607.60" cy="144.00" r="1.65" fill="#4747f7"/>
<circle cx="608.40" cy="143.00" r="1.65" fill="#4747f7"/>
<circle cx="615.10" cy="145.30" r="1.65" fill="#4747f7"/>
<circle cx="634.30" cy="145.00" r="1.65" fill="#4747f7"/>
<circle cx="649.90" cy="145.20" r="1.65" fill="#4747f7"/>
<circle cx="600.60" cy="143.00" r="1.65" fill="#efdb7c"/>
<circle cx="616.90" cy="143.50" r="1.65" fill="#efdb7c"/>
<circle cx="616.80" cy="144.00" r="1.65" fill="#efdb7c"/>
<circle cx="624.30" cy="141.90" r="1.65" fill="#efdb7c"/>
<circle cx="626.30" cy="142.90" r="1.65" fill="#efdb7c"/>
<circle cx="630.00" cy="143.70" r="1.65" fill="#efdb7c"/>
<circle cx="639.70" cy="142.90" r="1.65" fill="#efdb7c"/>
<circle cx="640.80" cy="141.40" r="1.65" fill="#efdb7c"/>
<circle cx="645.90" cy="144.50" r="1.65" fill="#efdb7c"/>
<circle cx="648.00" cy="143.00" r="1.65" fill="#efdb7c"/>
<circle cx="649.00" cy="141.40" r="1.65" fill="#efdb7c"/>
<circle cx="648.90" cy="141.90" r="1.65" fill="#efdb7c"/>
<circle cx="646.50" cy="144.40" r="1.65" fill="#efdb7c"/>
<circle cx="662.70" cy="143.40" r="1.65" fill="#efdb7c"/>
<circle cx="660.20" cy="140.00" r="1.65" fill="#6b9b43"/>
<circle cx="672.50" cy="141.90" r="1.65" fill="#6b9b43"/>
<circle cx="670.10" cy="142.40" r="1.65" fill="#c9652e"/>
<circle cx="676.50" cy="143.40" r="1.65" fill="#c9652e"/>
<path d="M677.30,110.90L681.20,112.80L677.30,114.70Z" fill="#bebebe"/>
<path d="M677.30,112.40L681.20,114.30L677.30,116.20Z" fill="#bebebe"/>
<path d="M677.30,113.90L681.20,115.80L677.30,117.70Z" fill="#bebebe"/>
<path d="M677.30,115.40L681.20,117.30L677.30,119.20Z" fill="#bebebe"/>
<path d="M677.30,116.90L681.20,118.80L677.30,120.70Z" fill="#bebebe"/>
<path d="M677.30,118.40L681.20,120.30L677.30,122.20Z" fill="#bebebe"/>
<path d="M677.30,119.90L681.20,121.80L677.30,123.70Z" fill="#bebebe"/>
<path d="M677.30,121.40L681.20,123.30L677.30,125.20Z" fill="#bebebe"/>
<path d="M677.30,122.90L681.20,124.80L677.30,126.70Z" fill="#bebebe"/>
<path d="M677.30,124.40L681.20,126.30L677.30,128.20Z" fill="#bebebe"/>
<path d="M677.30,125.90L681.20,127.80L677.30,129.70Z" fill="#bebebe"/>
<path d="M677.30,127.40L681.20,129.30L677.30,131.20Z" fill="#d4392b"/>
<path d="M677.30,128.90L681.20,130.80L677.30,132.70Z" fill="#d4392b"/>
<path d="M677.30,130.40L681.20,132.30L677.30,134.20Z" fill="#d4392b"/>
<path d="M677.30,131.90L681.20,133.80L677.30,135.70Z" fill="#bebebe"/>
<path d="M677.30,133.40L681.20,135.30L677.30,137.20Z" fill="#bebebe"/>
<path d="M677.30,134.90L681.20,136.80L677.30,138.70Z" fill="#d4392b"/>
<path d="M677.30,136.40L681.20,138.30L677.30,140.20Z" fill="#d4392b"/>
<path d="M677.30,137.90L681.20,139.80L677.30,141.70Z" fill="#d4392b"/>
<path d="M677.30,139.40L681.20,141.30L677.30,143.20Z" fill="#d4392b"/>
<path d="M677.30,140.90L681.20,142.80L677.30,144.70Z" fill="#d4392b"/>
<path d="M677.30,142.40L681.20,144.30L677.30,146.20Z" fill="#d4392b"/>
<path d="M677.30,143.90L681.20,145.80L677.30,147.70Z" fill="#d4392b"/>
<line x1="539.59" y1="170.64" x2="702.30" y2="8.36" stroke="#f72b9c" stroke-width="1.5" stroke-dasharray="5.80 5.74"/>
</g>
<text transform="translate(7.2,88.2) rotate(-90)" x="0" y="0" font-size="8" text-anchor="middle" fill="#111">−log<tspan font-size="5.2" dy="2.4">10</tspan><tspan dy="-2.4">[</tspan><tspan font-style="italic">P</tspan><tspan font-size="5.2" dy="2.8">G×E</tspan><tspan dy="-2.8">]</tspan></text>
<text x="168.00" y="81.70" font-size="7.7" text-anchor="start" fill="#52207a">LDL_TG_pct</text>
<line x1="171.70" y1="85.20" x2="168.20" y2="118.30" stroke="#4a0f5c" stroke-width="0.9"/>
<circle cx="168.30" cy="118.50" r="1.6" fill="#4a0f5c"/>
<text x="531.00" y="34.20" font-size="7.7" text-anchor="start" fill="#5aaee0">Gly</text>
<text x="531.00" y="79.30" font-size="7.7" text-anchor="start" fill="#5aaee0">His</text>
<path d="M546.6,29.6L550.4,31.5L546.6,33.4Z" fill="#5aaee0"/>
<path d="M546.6,74.7L550.4,76.6L546.6,78.5Z" fill="#5aaee0"/>
<text x="14.00" y="201.20" font-size="8.1" text-anchor="start" fill="#000">Top 20 metabolites correlated with clinical lipid biomarkers</text>
<circle cx="17.70" cy="209.90" r="2.0" fill="#4747f7"/>
<text x="23.00" y="212.80" font-size="8.1" text-anchor="start" fill="#000">HDL-C</text>
<circle cx="79.90" cy="209.90" r="2.0" fill="#6b9b43"/>
<text x="85.20" y="212.80" font-size="8.1" text-anchor="start" fill="#000">LDL-C</text>
<circle cx="139.20" cy="209.90" r="2.0" fill="#c9652e"/>
<text x="144.50" y="212.80" font-size="8.1" text-anchor="start" fill="#000">LDL-C and TC</text>
<circle cx="17.70" cy="223.50" r="2.0" fill="#d4392b"/>
<text x="23.00" y="226.40" font-size="8.1" text-anchor="start" fill="#000">TG</text>
<circle cx="79.90" cy="223.50" r="2.0" fill="#efdb7c"/>
<text x="85.20" y="226.40" font-size="8.1" text-anchor="start" fill="#000">TC</text>
<text x="14.00" y="250.00" font-size="8.1" text-anchor="start" fill="#000">Other metabolites</text>
<circle cx="17.70" cy="258.20" r="2.0" fill="#4a0f5c"/>
<text x="23.00" y="261.10" font-size="8.1" text-anchor="start" fill="#000">G×E-specific</text>
<circle cx="139.20" cy="258.20" r="2.0" fill="#bebebe"/>
<text x="144.50" y="261.10" font-size="8.1" text-anchor="start" fill="#000">Others</text>
<circle cx="17.70" cy="271.90" r="2.0" fill="#5aaee0"/>
<text x="23.00" y="274.80" font-size="8.1" text-anchor="start" fill="#000">G×E interactions for non-lipid metabolites</text>
<text x="0.00" y="306.80" font-size="10.2" text-anchor="start" fill="#000" font-weight="bold">b</text>
<rect x="0.00" y="331.80" width="334.00" height="34.60" fill="#e0e0e0"/>
<line x1="0.90" y1="321.50" x2="101.30" y2="321.50" stroke="#8c8c8c" stroke-width="0.9"/>
<line x1="104.20" y1="321.50" x2="334.00" y2="321.50" stroke="#8c8c8c" stroke-width="0.9"/>
<text x="34.50" y="318.20" font-size="8.2" text-anchor="end" fill="#000">Sex</text>
<text x="96.90" y="318.20" font-size="8.2" text-anchor="end" fill="#000">Age</text>
<text x="218.40" y="318.10" font-size="8.2" text-anchor="middle" fill="#000"><tspan font-style="italic">CETP</tspan> locus, LDL_TG_pct</text>
<text x="34.50" y="330.10" font-size="8.2" text-anchor="end" fill="#000">All</text>
<text x="34.50" y="351.85" font-size="8.2" text-anchor="end" fill="#000">Male</text>
<text x="34.50" y="386.65" font-size="8.2" text-anchor="end" fill="#000">Female</text>
<text x="96.90" y="330.10" font-size="8.2" text-anchor="end" fill="#000">All</text>
<text x="96.90" y="338.80" font-size="8.2" text-anchor="end" fill="#000">All</text>
<text x="96.90" y="347.50" font-size="8.2" text-anchor="end" fill="#000">Age &lt; 50</text>
<text x="96.90" y="356.20" font-size="8.2" text-anchor="end" fill="#000">50 ≤ Age &lt; 60</text>
<text x="96.90" y="364.90" font-size="8.2" text-anchor="end" fill="#000">60 ≤ Age</text>
<text x="96.90" y="373.60" font-size="8.2" text-anchor="end" fill="#000">All</text>
<text x="96.90" y="382.30" font-size="8.2" text-anchor="end" fill="#000">Age &lt; 50</text>
<text x="96.90" y="391.00" font-size="8.2" text-anchor="end" fill="#000">50 ≤ Age &lt; 60</text>
<text x="96.90" y="399.70" font-size="8.2" text-anchor="end" fill="#000">60 ≤ Age</text>
<line x1="102.50" y1="401.50" x2="334.00" y2="401.50" stroke="#8c8c8c" stroke-width="0.9"/>
<line x1="124.50" y1="401.50" x2="124.50" y2="404.50" stroke="#8c8c8c" stroke-width="0.9"/>
<text x="124.50" y="414.10" font-size="8.0" text-anchor="middle" fill="#111">−0.04</text>
<line x1="171.30" y1="401.50" x2="171.30" y2="404.50" stroke="#8c8c8c" stroke-width="0.9"/>
<text x="171.30" y="414.10" font-size="8.0" text-anchor="middle" fill="#111">−0.02</text>
<line x1="218.10" y1="401.50" x2="218.10" y2="404.50" stroke="#8c8c8c" stroke-width="0.9"/>
<text x="218.10" y="414.10" font-size="8.0" text-anchor="middle" fill="#111">0</text>
<line x1="264.90" y1="401.50" x2="264.90" y2="404.50" stroke="#8c8c8c" stroke-width="0.9"/>
<text x="264.90" y="414.10" font-size="8.0" text-anchor="middle" fill="#111">0.02</text>
<line x1="311.70" y1="401.50" x2="311.70" y2="404.50" stroke="#8c8c8c" stroke-width="0.9"/>
<text x="311.70" y="414.10" font-size="8.0" text-anchor="middle" fill="#111">0.04</text>
<text x="218.40" y="425.80" font-size="7.8" text-anchor="middle" fill="#111">Effect size (95% CI)</text>
<clipPath id="cpb"><rect x="102" y="322" width="232" height="80"/></clipPath><g clip-path="url(#cpb)">
<line x1="194.80" y1="327.20" x2="234.90" y2="327.20" stroke="#000" stroke-width="1.0"/>
<circle cx="214.70" cy="327.20" r="2.0" fill="#fff" stroke="#000" stroke-width="1.0"/>
<line x1="259.20" y1="335.90" x2="320.90" y2="335.90" stroke="#1d5097" stroke-width="1.3"/>
<circle cx="290.10" cy="335.90" r="2.45" fill="#1d5097"/>
<line x1="211.90" y1="344.60" x2="340.00" y2="344.60" stroke="#8189c0" stroke-width="1.0"/>
<circle cx="279.50" cy="344.60" r="2.0" fill="#fff" stroke="#8189c0" stroke-width="1.0"/>
<line x1="230.10" y1="353.30" x2="340.00" y2="353.30" stroke="#8189c0" stroke-width="1.0"/>
<circle cx="285.90" cy="353.30" r="2.45" fill="#8189c0"/>
<line x1="256.80" y1="362.00" x2="340.00" y2="362.00" stroke="#8189c0" stroke-width="1.0"/>
<circle cx="301.00" cy="362.00" r="2.45" fill="#8189c0"/>
<line x1="122.00" y1="370.70" x2="174.30" y2="370.70" stroke="#e5141b" stroke-width="1.3"/>
<circle cx="148.40" cy="370.70" r="2.45" fill="#e5141b"/>
<line x1="100.00" y1="379.40" x2="186.50" y2="379.40" stroke="#ec8c64" stroke-width="1.0"/>
<circle cx="134.00" cy="379.40" r="2.45" fill="#ec8c64"/>
<line x1="100.00" y1="388.10" x2="179.20" y2="388.10" stroke="#ec8c64" stroke-width="1.0"/>
<circle cx="134.00" cy="388.10" r="2.45" fill="#ec8c64"/>
<line x1="129.80" y1="396.80" x2="209.70" y2="396.80" stroke="#ec8c64" stroke-width="1.0"/>
<circle cx="169.40" cy="396.80" r="2.45" fill="#ec8c64"/>
</g>
<text x="347.50" y="203.50" font-size="10.5" text-anchor="start" fill="#000" font-weight="bold">c</text>
<line x1="350.20" y1="207.50" x2="682.60" y2="207.50" stroke="#8c8c8c" stroke-width="0.9"/>
<text x="565.20" y="203.90" font-size="7.8" text-anchor="middle" fill="#000">LDL_TG_pct</text>
<rect x="350.20" y="247.50" width="332.40" height="26.50" fill="#e0e0e0"/>
<line x1="350.20" y1="220.50" x2="445.70" y2="220.50" stroke="#8c8c8c" stroke-width="0.9"/>
<line x1="448.60" y1="220.50" x2="682.60" y2="220.50" stroke="#8c8c8c" stroke-width="0.9"/>
<text x="384.00" y="217.30" font-size="8.2" text-anchor="end" fill="#000">Sex</text>
<text x="444.40" y="217.30" font-size="8.2" text-anchor="end" fill="#000">Statins</text>
<text x="567.70" y="217.10" font-size="7.9" text-anchor="middle" fill="#000" font-weight="bold">All-cause death</text>
<text x="384.00" y="237.80" font-size="8.2" text-anchor="end" fill="#000">All</text>
<text x="384.00" y="263.90" font-size="8.2" text-anchor="end" fill="#000">Male</text>
<text x="384.00" y="290.00" font-size="8.2" text-anchor="end" fill="#000">Female</text>
<text x="444.40" y="229.10" font-size="8.2" text-anchor="end" fill="#000">All</text>
<text x="444.40" y="237.80" font-size="8.2" text-anchor="end" fill="#000">Non-taking</text>
<text x="444.40" y="246.50" font-size="8.2" text-anchor="end" fill="#000">Taking</text>
<text x="444.40" y="255.20" font-size="8.2" text-anchor="end" fill="#000">All</text>
<text x="444.40" y="263.90" font-size="8.2" text-anchor="end" fill="#000">Non-taking</text>
<text x="444.40" y="272.60" font-size="8.2" text-anchor="end" fill="#000">Taking</text>
<text x="444.40" y="281.30" font-size="8.2" text-anchor="end" fill="#000">All</text>
<text x="444.40" y="290.00" font-size="8.2" text-anchor="end" fill="#000">Non-taking</text>
<text x="444.40" y="298.70" font-size="8.2" text-anchor="end" fill="#000">Taking</text>
<clipPath id="cpc226"><rect x="448" y="221.2" width="234.6" height="80"/></clipPath><g clip-path="url(#cpc226)">
<line x1="593.80" y1="226.20" x2="605.20" y2="226.20" stroke="#111" stroke-width="1.15"/>
<circle cx="599.20" cy="226.20" r="2.5" fill="#111"/>
<line x1="588.40" y1="234.90" x2="601.70" y2="234.90" stroke="#8f8f8f" stroke-width="1.15"/>
<circle cx="594.90" cy="234.90" r="2.5" fill="#5e5e5e"/>
<line x1="597.40" y1="243.60" x2="617.80" y2="243.60" stroke="#585858" stroke-width="1.15"/>
<circle cx="607.00" cy="243.60" r="2.5" fill="#585858"/>
<line x1="588.40" y1="252.30" x2="602.70" y2="252.30" stroke="#174d94" stroke-width="1.15"/>
<circle cx="594.90" cy="252.30" r="2.5" fill="#174d94"/>
<line x1="582.30" y1="261.00" x2="601.00" y2="261.00" stroke="#8189c0" stroke-width="1.15"/>
<circle cx="591.30" cy="261.00" r="2.5" fill="#8189c0"/>
<line x1="589.10" y1="269.70" x2="613.50" y2="269.70" stroke="#8189c0" stroke-width="1.15"/>
<circle cx="601.00" cy="269.70" r="2.5" fill="#8189c0"/>
<line x1="595.60" y1="278.40" x2="616.00" y2="278.40" stroke="#e8121a" stroke-width="1.15"/>
<circle cx="605.20" cy="278.40" r="2.5" fill="#e8121a"/>
<line x1="589.10" y1="287.10" x2="611.70" y2="287.10" stroke="#ee8a62" stroke-width="1.15"/>
<circle cx="600.20" cy="287.10" r="2.5" fill="#ee8a62"/>
<line x1="602.70" y1="295.80" x2="645.60" y2="295.80" stroke="#ee8a62" stroke-width="1.15"/>
<circle cx="623.10" cy="295.80" r="2.5" fill="#ee8a62"/>
</g>
<rect x="350.20" y="348.60" width="332.40" height="26.20" fill="#e0e0e0"/>
<line x1="350.20" y1="321.50" x2="445.70" y2="321.50" stroke="#8c8c8c" stroke-width="0.9"/>
<line x1="448.60" y1="321.50" x2="682.60" y2="321.50" stroke="#8c8c8c" stroke-width="0.9"/>
<text x="384.00" y="318.30" font-size="8.2" text-anchor="end" fill="#000">Sex</text>
<text x="444.40" y="318.30" font-size="8.2" text-anchor="end" fill="#000">Statins</text>
<text x="567.70" y="318.10" font-size="7.9" text-anchor="middle" fill="#000" font-weight="bold">CAD-caused death</text>
<text x="384.00" y="338.80" font-size="8.2" text-anchor="end" fill="#000">All</text>
<text x="384.00" y="364.90" font-size="8.2" text-anchor="end" fill="#000">Male</text>
<text x="384.00" y="391.00" font-size="8.2" text-anchor="end" fill="#000">Female</text>
<text x="444.40" y="330.10" font-size="8.2" text-anchor="end" fill="#000">All</text>
<text x="444.40" y="338.80" font-size="8.2" text-anchor="end" fill="#000">Non-taking</text>
<text x="444.40" y="347.50" font-size="8.2" text-anchor="end" fill="#000">Taking</text>
<text x="444.40" y="356.20" font-size="8.2" text-anchor="end" fill="#000">All</text>
<text x="444.40" y="364.90" font-size="8.2" text-anchor="end" fill="#000">Non-taking</text>
<text x="444.40" y="373.60" font-size="8.2" text-anchor="end" fill="#000">Taking</text>
<text x="444.40" y="382.30" font-size="8.2" text-anchor="end" fill="#000">All</text>
<text x="444.40" y="391.00" font-size="8.2" text-anchor="end" fill="#000">Non-taking</text>
<text x="444.40" y="399.70" font-size="8.2" text-anchor="end" fill="#000">Taking</text>
<clipPath id="cpc327"><rect x="448" y="322.2" width="234.6" height="80"/></clipPath><g clip-path="url(#cpc327)">
<line x1="586.60" y1="327.20" x2="623.50" y2="327.20" stroke="#111" stroke-width="1.15"/>
<circle cx="604.50" cy="327.20" r="2.5" fill="#111"/>
<line x1="565.90" y1="335.90" x2="617.80" y2="335.90" stroke="#8f8f8f" stroke-width="1.15"/>
<circle cx="591.00" cy="335.90" r="2.5" fill="#5e5e5e"/>
<line x1="591.30" y1="344.60" x2="645.00" y2="344.60" stroke="#585858" stroke-width="1.15"/>
<circle cx="617.00" cy="344.60" r="2.5" fill="#585858"/>
<line x1="575.90" y1="353.30" x2="616.00" y2="353.30" stroke="#174d94" stroke-width="1.15"/>
<circle cx="594.90" cy="353.30" r="2.5" fill="#174d94"/>
<line x1="553.40" y1="362.00" x2="609.90" y2="362.00" stroke="#8189c0" stroke-width="1.15"/>
<circle cx="580.20" cy="362.00" r="2.5" fill="#8189c0"/>
<line x1="581.30" y1="370.70" x2="637.80" y2="370.70" stroke="#8189c0" stroke-width="1.15"/>
<circle cx="608.50" cy="370.70" r="2.5" fill="#8189c0"/>
<line x1="602.00" y1="379.40" x2="690.00" y2="379.40" stroke="#e8121a" stroke-width="1.15"/>
<circle cx="649.20" cy="379.40" r="2.5" fill="#e8121a"/>
<line x1="577.00" y1="388.10" x2="690.00" y2="388.10" stroke="#ee8a62" stroke-width="1.15"/>
<circle cx="636.00" cy="388.10" r="2.5" fill="#ee8a62"/>
<line x1="593.00" y1="396.80" x2="690.00" y2="396.80" stroke="#ee8a62" stroke-width="1.15"/>
<circle cx="666.00" cy="396.80" r="2.5" fill="#ee8a62"/>
</g>
<line x1="449.80" y1="401.50" x2="682.60" y2="401.50" stroke="#8c8c8c" stroke-width="0.9"/>
<line x1="486.70" y1="401.50" x2="486.70" y2="404.50" stroke="#8c8c8c" stroke-width="0.9"/>
<text x="486.70" y="414.10" font-size="8.0" text-anchor="middle" fill="#111">0.8</text>
<line x1="539.00" y1="401.50" x2="539.00" y2="404.50" stroke="#8c8c8c" stroke-width="0.9"/>
<text x="539.00" y="414.10" font-size="8.0" text-anchor="middle" fill="#111">1.0</text>
<line x1="591.30" y1="401.50" x2="591.30" y2="404.50" stroke="#8c8c8c" stroke-width="0.9"/>
<text x="591.30" y="414.10" font-size="8.0" text-anchor="middle" fill="#111">1.2</text>
<line x1="643.60" y1="401.50" x2="643.60" y2="404.50" stroke="#8c8c8c" stroke-width="0.9"/>
<text x="643.60" y="414.10" font-size="8.0" text-anchor="middle" fill="#111">1.4</text>
<text x="565.20" y="425.50" font-size="7.9" text-anchor="middle" fill="#111">Hazard ratio per unit of SD (95% CI)</text>
</svg></body></html>
